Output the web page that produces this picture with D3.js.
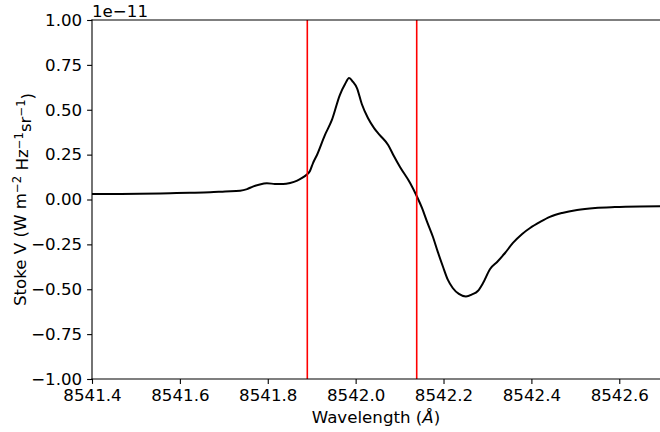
<!DOCTYPE html>
<html>
<head>
<meta charset="utf-8">
<script src="https://cdn.jsdelivr.net/npm/d3@7"></script>
<style>
  html, body { margin: 0; padding: 0; background: #fff; }
  svg { display: block; font-family: "DejaVu Sans", sans-serif; }
</style>
</head>
<body>
<svg id="chart" width="660" height="432"></svg>
<script>
// Wavelength samples (Å)
const wavelength = [
  8541.400, 8541.441, 8541.509, 8541.578, 8541.623, 8541.669, 8541.703, 8541.737,
  8541.753, 8541.766, 8541.782, 8541.798, 8541.816, 8541.835, 8541.851, 8541.867,
  8541.880, 8541.889, 8541.896, 8541.903, 8541.912, 8541.930, 8541.946, 8541.964,
  8541.976, 8541.985, 8541.994, 8542.003, 8542.014, 8542.028, 8542.042, 8542.055,
  8542.074, 8542.087, 8542.101, 8542.124, 8542.140, 8542.151, 8542.162, 8542.176,
  8542.187, 8542.199, 8542.210, 8542.221, 8542.235, 8542.251, 8542.265, 8542.278,
  8542.290, 8542.306, 8542.322, 8542.340, 8542.358, 8542.379, 8542.397, 8542.420,
  8542.442, 8542.470, 8542.504, 8542.545, 8542.590, 8542.647, 8542.693
];
// Stokes V, in units of 1e-11 W m^-2 Hz^-1 sr^-1
const stokesV = [
  0.031, 0.031, 0.032, 0.035, 0.037, 0.040, 0.045, 0.049,
  0.058, 0.072, 0.084, 0.090, 0.087, 0.086, 0.092, 0.105,
  0.123, 0.139, 0.159, 0.203, 0.248, 0.359, 0.443, 0.582,
  0.643, 0.677, 0.655, 0.621, 0.532, 0.454, 0.398, 0.359,
  0.304, 0.242, 0.181, 0.092, 0.014, -0.047, -0.120, -0.209,
  -0.292, -0.376, -0.448, -0.493, -0.526, -0.540, -0.529, -0.510,
  -0.465, -0.387, -0.348, -0.298, -0.242, -0.192, -0.159, -0.125,
  -0.097, -0.075, -0.058, -0.047, -0.042, -0.039, -0.038
];
// Marked wavelengths (vertical red lines)
const markers = [8541.890, 8542.139];
const xTicks = [8541.4, 8541.6, 8541.8, 8542.0, 8542.2, 8542.4, 8542.6];
const yTicks = [-1.00, -0.75, -0.50, -0.25, 0.00, 0.25, 0.50, 0.75, 1.00];
const offsetLabel = "1e\u221211";

const svg = d3.select("#chart");
const FS = 16.67;
const mLeft = 92, mTop = 20, mBottom = 379, mRight = 672;

const x = d3.scaleLinear().domain([8541.4, 8542.72]).range([mLeft, mRight]);
const y = d3.scaleLinear().domain([-1, 1]).range([mBottom, mTop]);

svg.append("defs").append("clipPath").attr("id", "plotclip")
  .append("rect").attr("x", mLeft).attr("y", mTop)
  .attr("width", mRight - mLeft).attr("height", mBottom - mTop);

const plot = svg.append("g").attr("clip-path", "url(#plotclip)");

// Stokes V profile
const pts = wavelength.map((w, i) => [w, stokesV[i]]);
plot.append("path")
  .datum(pts)
  .attr("fill", "none")
  .attr("stroke", "#000")
  .attr("stroke-width", 2.0)
  .attr("stroke-linejoin", "round")
  .attr("d", d3.line().x(d => x(d[0])).y(d => y(d[1])).curve(d3.curveMonotoneX));

// Vertical markers
plot.selectAll("line.marker").data(markers).join("line")
  .attr("class", "marker")
  .attr("x1", d => x(d)).attr("x2", d => x(d))
  .attr("y1", mTop).attr("y2", mBottom)
  .attr("stroke", "#ff0000").attr("stroke-width", 1.6);

// Axes
const xAxis = d3.axisBottom(x).tickValues(xTicks).tickFormat(d3.format(".1f"))
  .tickSize(4.9).tickPadding(4.9);
const yAxis = d3.axisLeft(y).tickValues(yTicks).tickFormat(d3.format(".2f"))
  .tickSize(4.9).tickPadding(4.9);

const gx = svg.append("g").attr("transform", `translate(0,${mBottom})`).call(xAxis);
const gy = svg.append("g").attr("transform", `translate(${mLeft},0)`).call(yAxis);

[gx, gy].forEach(g => {
  g.select(".domain").remove();
  g.selectAll(".tick line").attr("stroke", "#000").attr("stroke-width", 1.1);
  g.selectAll(".tick text").attr("fill", "#000")
    .style("font-size", FS + "px").style("font-family", "DejaVu Sans");
});

// Spines
const spine = (x1, y1, x2, y2) => svg.append("line")
  .attr("x1", x1).attr("y1", y1).attr("x2", x2).attr("y2", y2)
  .attr("stroke", "#000").attr("stroke-width", 1.1).attr("stroke-linecap", "square");
spine(mLeft, mTop, mLeft, mBottom);
spine(mLeft, mBottom, mRight, mBottom);
spine(mLeft, mTop, mRight, mTop);

// Offset (scale) text
svg.append("text").attr("x", mLeft).attr("y", 16.5)
  .style("font-size", FS + "px").text(offsetLabel);

// X label
const xl = svg.append("text").attr("x", (mLeft + 660) / 2).attr("y", 423)
  .attr("text-anchor", "middle").style("font-size", FS + "px");
xl.append("tspan").text("Wavelength (");
xl.append("tspan").style("font-style", "italic").text("\u00C5");
xl.append("tspan").text(")");

// Y label with superscripts
const yl = svg.append("text")
  .attr("transform", `translate(26,${(mTop + mBottom) / 2}) rotate(-90)`)
  .attr("text-anchor", "middle").style("font-size", FS + "px");
const sup = s => yl.append("tspan").attr("dy", "-0.45em").style("font-size", (FS * 0.7) + "px").text(s);
const base = s => yl.append("tspan").attr("dy", "0.45em").text(s);
yl.append("tspan").text("Stoke V (W m");
sup("\u22122");
base(" Hz");
sup("\u22121");
base("sr");
sup("\u22121");
base(")");
</script>
</body>
</html>
